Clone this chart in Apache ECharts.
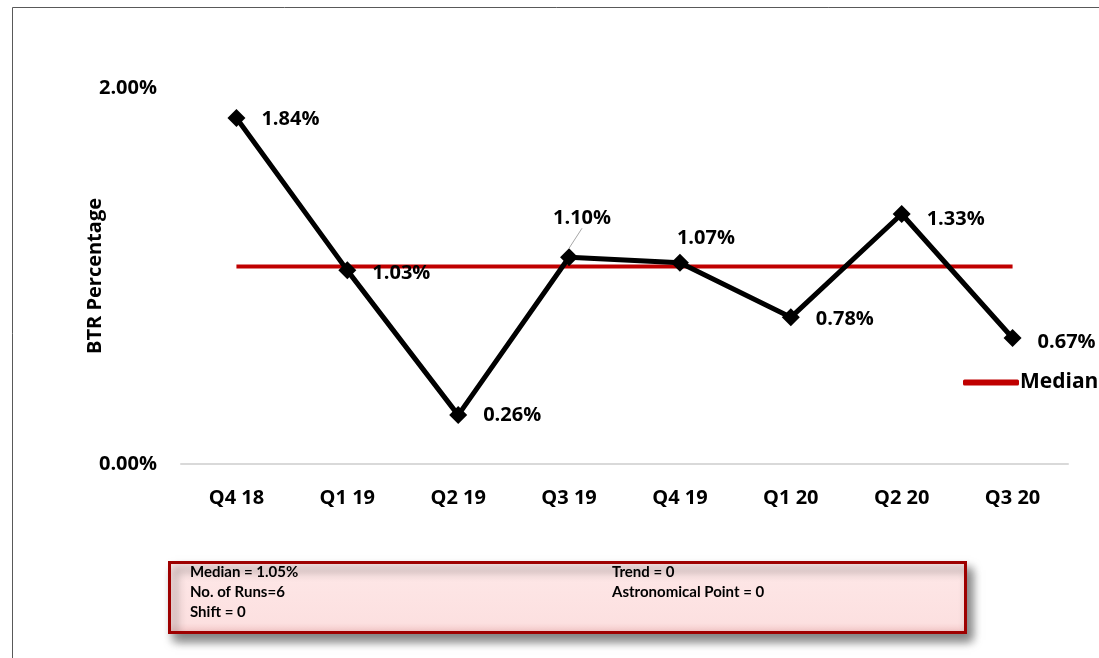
<!DOCTYPE html>
<html>
<head>
<meta charset="utf-8">
<script src="https://cdn.jsdelivr.net/npm/echarts@6/dist/echarts.min.js"></script>
<style>
  html, body { margin: 0; padding: 0; background: #fff; }
  #chart { width: 1099px; height: 658px; }
</style>
</head>
<body>
<div id="chart"></div>
<script>
const quarters = ['Q4 18', 'Q1 19', 'Q2 19', 'Q3 19', 'Q4 19', 'Q1 20', 'Q2 20', 'Q3 20']
const btrValues = [1.84, 1.03, 0.26, 1.10, 1.07, 0.78, 1.33, 0.67]
const medianValue = 1.05
const statsLeft = ['Median = 1.05%', 'No. of Runs=6', 'Shift = 0']
const statsRight = ['Trend = 0', 'Astronomical Point = 0']

const font = '"Open Sans", Lato, sans-serif'
const boxFont = 'Lato, "Open Sans", sans-serif'

// where each data label sits relative to its point (shift is applied by labelLayout)
const labelPlace = [
  { position: 'right', distance: 16, shift: [0, 1] },
  { position: 'right', distance: 16, shift: [0, 3] },
  { position: 'right', distance: 16, shift: [0, 0] },
  { position: 'top', distance: 10, shift: [13, -10] },
  { position: 'top', distance: 8, shift: [26, 2] },
  { position: 'right', distance: 16, shift: [0, 2] },
  { position: 'right', distance: 16, shift: [0, 5] },
  { position: 'right', distance: 16, shift: [0, 4] }
]

const chart = echarts.init(document.getElementById('chart'))

const option = {
  animation: false,
  textStyle: { fontFamily: font },
  grid: { left: 181, right: 31, top: 88, bottom: 194 },
  legend: {
    left: 958,
    top: 367,
    itemWidth: 56,
    itemHeight: 6,
    itemGap: 0,
    data: [{ name: 'Median', icon: 'roundRect' }],
    textStyle: { fontSize: 21, fontWeight: 'bold', color: '#000', fontFamily: font, padding: [0, 0, 0, -4] }
  },
  graphic: [
    {
      type: 'rect',
      left: 10, top: 5,
      shape: { width: 1200, height: 800 },
      style: { fill: 'none', stroke: '#595959', lineWidth: 1 },
      silent: true, z: -1
    },
    {
      type: 'rect',
      left: 168, top: 561,
      shape: { width: 796, height: 70 },
      style: {
        fill: new echarts.graphic.LinearGradient(0, 0, 0, 1, [
          { offset: 0, color: '#fee8e8' },
          { offset: 0.85, color: '#fce0e0' },
          { offset: 1, color: '#f3c4c4' }
        ]),
        stroke: '#9e0000', lineWidth: 3,
        shadowBlur: 10, shadowOffsetX: 5, shadowOffsetY: 7, shadowColor: 'rgba(0,0,0,0.5)'
      },
      z: 10
    },
    {
      type: 'text',
      left: 190, top: 562,
      style: { text: statsLeft.join('\n'), font: 'bold 15px ' + boxFont, lineHeight: 20, fill: '#000' },
      z: 11
    },
    {
      type: 'text',
      left: 612, top: 562,
      style: { text: statsRight.join('\n'), font: 'bold 15px ' + boxFont, lineHeight: 20, fill: '#000' },
      z: 11
    }
  ],
  xAxis: {
    type: 'category',
    data: quarters,
    boundaryGap: true,
    axisLine: { lineStyle: { color: '#d9d9d9', width: 2 } },
    axisTick: { show: false },
    axisLabel: { margin: 24, fontSize: 20, fontWeight: 'bold', color: '#000', fontFamily: font }
  },
  yAxis: {
    type: 'value',
    min: 0,
    max: 2,
    interval: 2,
    name: 'BTR Percentage',
    nameLocation: 'middle',
    nameGap: 76,
    nameMoveOverlap: false,
    nameRotate: 90,
    nameTextStyle: { fontSize: 20, fontWeight: 'bold', color: '#000', fontFamily: font },
    axisLine: { show: false },
    axisTick: { show: false },
    splitLine: { show: false },
    axisLabel: {
      margin: 24,
      fontSize: 20, fontWeight: 'bold', color: '#000', fontFamily: font,
      formatter: v => v.toFixed(2) + '%'
    }
  },
  series: [
    {
      name: 'Median',
      type: 'line',
      data: quarters.map(() => medianValue),
      symbol: 'none',
      lineStyle: { color: '#c00000', width: 4 },
      itemStyle: { color: '#c00000' },
      z: 2
    },
    {
      name: 'BTR',
      type: 'line',
      data: btrValues.map((v, i) => ({
        value: v,
        label: { show: true, position: labelPlace[i].position, distance: labelPlace[i].distance },
        labelLine: { show: i === 3 }
      })),
      symbol: 'diamond',
      symbolSize: 18,
      lineStyle: { color: '#000', width: 5 },
      itemStyle: { color: '#000' },
      label: {
        show: true,
        fontSize: 20,
        fontWeight: 'bold',
        color: '#000',
        fontFamily: font,
        formatter: p => p.value.toFixed(2) + '%'
      },
      labelLine: {
        show: false,
        lineStyle: { color: '#a6a6a6', width: 1 }
      },
      labelLayout: p => {
        const s = labelPlace[p.dataIndex].shift
        return { dx: s[0], dy: s[1] }
      },
      z: 3
    }
  ]
}

chart.setOption(option)
</script>
</body>
</html>
